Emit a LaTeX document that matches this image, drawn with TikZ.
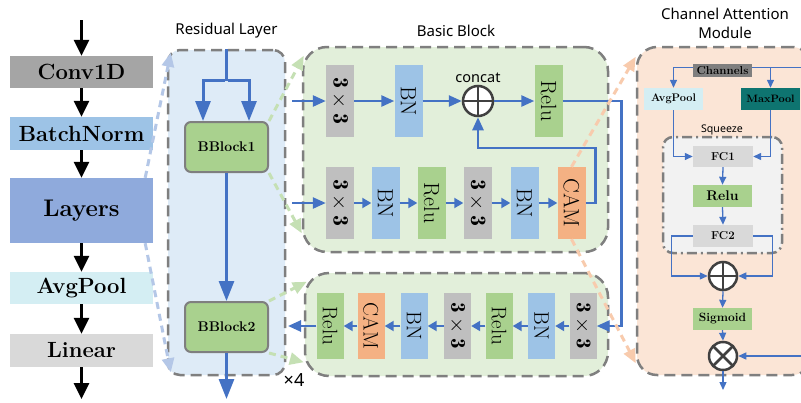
\documentclass[tikz,border=0pt]{standalone}
\usepackage{fontspec}
\newfontfamily\sansf{Noto Sans}
\usetikzlibrary{arrows.meta,calc}
\definecolor{dgray}{HTML}{7F7F7F}
\definecolor{convc}{HTML}{A5A5A5}
\definecolor{bnc}{HTML}{9DC3E6}
\definecolor{layc}{HTML}{8FAADC}
\definecolor{avgc}{HTML}{D4EEF3}
\definecolor{linc}{HTML}{D9D9D9}
\definecolor{resc}{HTML}{DEEBF7}
\definecolor{blkc}{HTML}{E2EFDA}
\definecolor{campc}{HTML}{FBE5D6}
\definecolor{sqc}{HTML}{F2F2F2}
\definecolor{c33}{HTML}{BFBFBF}
\definecolor{greenc}{HTML}{A9D18E}
\definecolor{orc}{HTML}{F4B183}
\definecolor{chc}{HTML}{7F7F7F}
\definecolor{tealc}{HTML}{0E7470}
\definecolor{bluec}{HTML}{4472C4}
\definecolor{dgreen}{HTML}{C5E0B4}
\definecolor{dblue}{HTML}{B4C7E7}
\definecolor{dorange}{HTML}{F8CBAD}
\definecolor{opc}{HTML}{404040}
\begin{document}
\begin{tikzpicture}[x=1pt,y=-1pt,
  lbox/.style={inner sep=0, minimum width=143pt, font=\bfseries\fontsize{22}{24}\selectfont},
  blk/.style={-{Triangle[length=16pt,width=15pt]}, line width=3pt, black},
  panel/.style={draw=dgray, dash pattern=on 11pt off 6pt, line width=2.5pt, inner sep=0},
  vbx/.style={inner sep=0, minimum width=28pt, minimum height=72pt},
  vbs/.style={inner sep=0, minimum width=27pt, minimum height=66pt},
  vtext/.style={rotate=-90, font=\fontsize{22}{22}\selectfont, inner sep=0},
  vtexts/.style={rotate=-90, font=\fontsize{21}{21}\selectfont, inner sep=0},
  vlab/.style={label={[vtext]center:#1}},
  vlabs/.style={label={[vtexts]center:#1}},
  bar/.style={-{Triangle[length=13pt,width=11pt]}, line width=2.5pt, bluec},
  bars/.style={-{Triangle[length=9pt,width=10pt]}, line width=2pt, bluec},
  rar/.style={-{Triangle[length=20pt,width=15pt]}, line width=3pt, bluec},
  sar/.style={-{Triangle[length=8pt,width=7pt]}, line width=1.3pt, bluec},
  dar/.style={dash pattern=on 7pt off 5pt, line width=3pt, -{Triangle[length=14pt,width=12pt]}},
  bblk/.style={draw=dgray, line width=2pt, fill=greenc, rounded corners=6pt, minimum width=83pt, minimum height=50pt, inner sep=0, font=\bfseries\fontsize{14}{14}\selectfont},
  cbox/.style={inner sep=0, minimum width=59pt, minimum height=22pt, font=\bfseries\fontsize{11.5}{12}\selectfont},
  ttl/.style={font=\sansf\fontsize{15}{19}\selectfont, align=center},
  op/.style={circle, draw=opc, line width=2.5pt, fill=white, minimum size=#1, inner sep=0,
    path picture={\draw[opc, line width=2.5pt] (path picture bounding box.north) -- (path picture bounding box.south) (path picture bounding box.west) -- (path picture bounding box.east);}},
  ot/.style={circle, draw=opc, line width=2.5pt, fill=white, minimum size=#1, inner sep=0,
    path picture={\draw[opc, line width=2.5pt] (path picture bounding box.north west) -- (path picture bounding box.south east) (path picture bounding box.north east) -- (path picture bounding box.south west);}}
]
\useasboundingbox (0,0) rectangle (801,402);
\clip (0,0) rectangle (801,402);
\fill[white] (0,0) rectangle (801,402);

% ---------- left column ----------
\node[lbox, fill=convc, minimum height=32pt] (conv) at (81.5,72) {Conv1D};
\node[lbox, fill=bnc, minimum height=33pt] (bn) at (81.5,133.5) {BatchNorm};
\node[lbox, fill=layc, minimum height=65pt, font=\bfseries\fontsize{24}{26}\selectfont] (lay) at (81.5,210.5) {Layers};
\node[lbox, fill=avgc, minimum height=32pt] (avg) at (81.5,288) {AvgPool};
\node[lbox, fill=linc, minimum height=33pt] (lin) at (81.5,350.5) {Linear};
\coordinate (top) at (81.5,20);
\coordinate (bot) at (81.5,399);
\draw[blk] (top) -- (conv.north);
\draw[blk] (conv.south) -- (bn.north);
\draw[blk] (bn.south) -- (lay.north);
\draw[blk] (lay.south) -- (avg.north);
\draw[blk] (avg.south) -- (lin.north);
\draw[blk] (lin.south) -- (bot);

% ---------- panels ----------
\node[panel, fill=resc, rounded corners=12pt, minimum width=117pt, minimum height=325pt] (res) at (226.5,212.5) {};
\node[panel, fill=blkc, rounded corners=24pt, minimum width=305pt, minimum height=205pt] (ub) at (455.5,149.5) {};
\node[panel, fill=blkc, rounded corners=24pt, minimum width=303pt, minimum height=103pt] (lb) at (456.5,324.5) {};
\node[panel, fill=campc, rounded corners=20pt, minimum width=175pt, minimum height=328pt] (camp) at (724.5,211) {};
\node[ttl] at (226.5,31) {Residual Layer};
\node[ttl] at (456,31) {Basic Block};
\node[ttl] at (725,23) {Channel Attention\\Module};

% ---------- residual layer ----------
\node[bblk] (bb1) at (226.5,147) {BBlock1};
\node[bblk] (bb2) at (226.5,327) {BBlock2};
\coordinate (resout) at (226.5,399);
\draw[line width=3pt, bluec] (res.north) -- ++(0,32) coordinate (split);
\draw[rar] ([xshift=-1.5pt]split) -| ([xshift=-23.5pt]bb1.north);
\draw[rar] ([xshift=1.5pt]split) -| ([xshift=22.5pt]bb1.north);
\draw[rar] (bb1.south) -- (bb2.north);
\draw[rar] (bb2.south) -- (resout);
\node[font=\sansf\fontsize{18}{18}\selectfont, inner sep=0] (x4) at (294,380) {×4};

% ---------- basic block upper ----------
\node[vbx, fill=c33, vlab={$\mathbf{3}\times\mathbf{3}$}] (c1a) at (340,101) {};
\node[vbx, fill=bnc, vlab=BN] (bn1) at (408.5,101) {};
\node[op=30pt, label={[font=\sansf\fontsize{14.5}{15}\selectfont, inner sep=2pt]above:concat}] (plus) at (478,101) {};
\node[vbx, fill=greenc, vlab=Relu] (relu1) at (548.5,101) {};
\node[vbx, fill=c33, vlab={$\mathbf{3}\times\mathbf{3}$}] (c2a) at (340,203) {};
\node[vbx, fill=bnc, vlab=BN] (bn2) at (385.5,203) {};
\node[vbx, fill=greenc, vlab=Relu] (relu2) at (431.5,203) {};
\node[vbx, fill=c33, vlab={$\mathbf{3}\times\mathbf{3}$}] (c2b) at (477.5,203) {};
\node[vbx, fill=bnc, vlab=BN] (bn3) at (524.5,203) {};
\node[vbx, fill=orc, vlab=CAM] (cam1) at (571.5,203) {};
\coordinate (in1) at (292,101);
\coordinate (in2) at (292,203);
\draw[bar] (in1) -- (c1a.west);
\draw[bar] (c1a.east) -- (bn1.west);
\draw[bar] (bn1.east) -- (plus.west);
\draw[bar] (plus.east) -- (relu1.west);
\draw[bar] (in2) -- (c2a.west);
\draw[bars] (c2a.east) -- (bn2.west);
\draw[bars] (bn2.east) -- (relu2.west);
\draw[bars] (relu2.east) -- (c2b.west);
\draw[bars] (c2b.east) -- (bn3.west);
\draw[bars] (bn3.east) -- (cam1.west);
\draw[bar] (cam1.east) -- ++(10,0) -- ++(0,-55) -| (plus.south);

% ---------- basic block lower ----------
\node[vbs, fill=c33, vlabs={$\mathbf{3}\times\mathbf{3}$}] (d1) at (583,326) {};
\node[vbs, fill=bnc, vlabs=BN] (d2) at (541.5,326) {};
\node[vbs, fill=greenc, vlabs=Relu] (d3) at (499,326) {};
\node[vbs, fill=c33, vlabs={$\mathbf{3}\times\mathbf{3}$}] (d4) at (457.5,326) {};
\node[vbs, fill=bnc, vlabs=BN] (d5) at (414,326) {};
\node[vbs, fill=orc, vlabs=CAM] (d6) at (371,326) {};
\node[vbs, fill=greenc, vlabs=Relu] (d7) at (330,326) {};
\coordinate (lbout) at (288,326);
\draw[bar] (relu1.east) -- ++(59,0) |- (d1.east);
\draw[bars] (d1.west) -- (d2.east);
\draw[bars] (d2.west) -- (d3.east);
\draw[bars] (d3.west) -- (d4.east);
\draw[bars] (d4.west) -- (d5.east);
\draw[bars] (d5.west) -- (d6.east);
\draw[bars] (d6.west) -- (d7.east);
\draw[bar] (d7.west) -- (lbout);

% ---------- channel attention module ----------
\node[panel, fill=sqc, rounded corners=10pt, dash pattern=on 10pt off 4pt on 2pt off 4pt, minimum width=119pt, minimum height=116pt] (sq) at (722.5,195) {};
\node[font=\sansf\fontsize{10.6}{11}\selectfont, inner sep=0] (sqt) at (722,130) {Squeeze};
\node[cbox, fill=chc, minimum height=13pt] (chan) at (722.5,70.5) {Channels};
\node[cbox, fill=avgc, font=\bfseries\fontsize{11}{12}\selectfont] (avgp) at (673.5,99) {AvgPool};
\node[cbox, fill=tealc, font=\bfseries\fontsize{10.7}{12}\selectfont] (maxp) at (770.5,99) {MaxPool};
\node[cbox, fill=linc, minimum width=60pt, minimum height=21pt] (fc1) at (723,156.5) {FC1};
\node[cbox, fill=greenc, font=\bfseries\fontsize{14}{14}\selectfont] (crelu) at (722.5,196) {Relu};
\node[cbox, fill=linc, minimum width=60pt] (fc2) at (723,236) {FC2};
\node[op=28pt] (plus2) at (723,276) {};
\node[cbox, fill=greenc, font=\bfseries\fontsize{12}{12}\selectfont] (sig) at (722.5,319) {Sigmoid};
\node[ot=28pt] (times) at (723,356) {};
\coordinate (chout) at (806,67.5);
\coordinate (tin) at (806,356);
\coordinate (tout) at (723,390);
\draw[sar] ([yshift=3pt]chan.west) -| (avgp.north);
\draw[line width=1.3pt, bluec] ([yshift=3pt]chan.east) -- (chout);
\draw[sar] (maxp.north |- chout) -- (maxp.north);
\draw[sar] (avgp.south) |- (fc1.west);
\draw[sar] (maxp.south) |- (fc1.east);
\draw[sar] (fc1.south) -- (crelu.north);
\draw[sar] (crelu.south) -- (fc2.north);
\draw[sar] (fc2.west) -- ++(-21,0) |- (plus2.west);
\draw[sar] (fc2.east) -- ++(19,0) |- (plus2.east);
\draw[sar] (plus2.south) -- (sig.north);
\draw[sar] (sig.south) -- (times.north);
\draw[sar] (tin) -- (times.east);
\draw[sar] (times.south) -- (tout);

% ---------- dashed zoom connectors ----------
\draw[dar, dblue] ([xshift=-8pt]lay.north east) -- ([shift={(4,4)}]res.north west);
\draw[dar, dblue] ([xshift=-8pt]lay.south east) -- ([shift={(4,-4)}]res.south west);
\draw[dar, dgreen] (bb1.north east) -- ([shift={(2,10)}]ub.north west);
\draw[dar, dgreen] (bb1.south east) -- ([shift={(0,-20)}]ub.south west);
\draw[dar, dgreen] (bb2.north east) -- ([shift={(3,10)}]lb.north west);
\draw[dar, dgreen] (bb2.south east) -- ([shift={(0,-15)}]lb.south west);
\draw[dar, dorange] (cam1.north) -- ([shift={(0,11)}]camp.north west);
\draw[dar, dorange] (cam1.south) -- ([shift={(0,-13)}]camp.south west);
\end{tikzpicture}
\end{document}
